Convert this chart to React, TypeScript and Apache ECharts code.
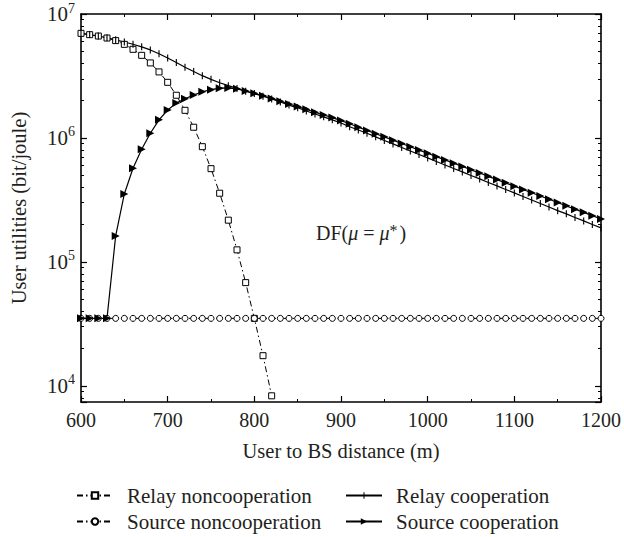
import React, { useEffect, useRef } from "react";
import * as echarts from "echarts";

const distance = [
  600, 610, 620, 630, 640, 650, 660, 670, 680, 690, 700, 710, 720, 730, 740, 750, 760, 770, 780, 790,
  800, 810, 820, 830, 840, 850, 860, 870, 880, 890, 900, 910, 920, 930, 940, 950, 960, 970, 980, 990,
  1000, 1010, 1020, 1030, 1040, 1050, 1060, 1070, 1080, 1090, 1100, 1110, 1120, 1130, 1140, 1150, 1160,
  1170, 1180, 1190, 1200,
];

const relayNoncoop = [
  6980000, 6810000, 6640000, 6400000, 6100000, 5690000, 5190000, 4640000, 4030000, 3410000, 2810000,
  2210000, 1670000, 1220000, 850000, 565000, 358000, 217000, 125000, 68000, 35000, 17500, 8300,
];

const relayCoop = [
  6980000, 6820000, 6640000, 6430000, 6190000, 5940000, 5700000, 5430000, 5130000, 4780000, 4420000,
  4060000, 3720000, 3440000, 3180000, 2970000, 2790000, 2640000, 2510000, 2380000, 2280000, 2170000,
  2060000, 1950000, 1840000, 1750000, 1650000, 1560000, 1480000, 1400000, 1320000, 1230000, 1160000,
  1090000, 1020000, 953000, 895000, 838000, 785000, 735000, 690000, 646000, 605000, 566000, 532000,
  498000, 467000, 437000, 410000, 384000, 360000, 337000, 316000, 296000, 277000, 259000, 244000,
  228000, 214000, 200000, 188000,
];

const sourceNoncoop = [
  35000, 35000, 35000, 35000, 35000, 35000, 35000, 35000, 35000, 35000, 35000, 35000, 35000, 35000,
  35000, 35000, 35000, 35000, 35000, 35000, 35000, 35000, 35000, 35000, 35000, 35000, 35000, 35000,
  35000, 35000, 35000, 35000, 35000, 35000, 35000, 35000, 35000, 35000, 35000, 35000, 35000, 35000,
  35000, 35000, 35000, 35000, 35000, 35000, 35000, 35000, 35000, 35000, 35000, 35000, 35000, 35000,
  35000, 35000, 35000, 35000, 35000,
];

const sourceCoop = [
  35000, 35000, 35000, 35000, 162000, 353000, 570000, 811000, 1090000, 1400000, 1680000, 1910000,
  2070000, 2220000, 2360000, 2450000, 2520000, 2530000, 2490000, 2390000, 2290000, 2190000, 2080000,
  1980000, 1880000, 1790000, 1700000, 1610000, 1530000, 1460000, 1380000, 1300000, 1220000, 1150000,
  1080000, 1020000, 959000, 902000, 849000, 798000, 752000, 706000, 665000, 625000, 589000, 553000,
  521000, 490000, 461000, 434000, 408000, 384000, 361000, 340000, 320000, 301000, 283000, 266000,
  251000, 236000, 222000,
];

const seriesNames = [
  "Relay noncooperation",
  "Source noncooperation",
  "Relay cooperation",
  "Source cooperation",
];

const FONT = "Liberation Serif";
const TEXT = "#231f20";
// vertical tick mark centred in a 10x10 box (the tiny corner strokes only fix the box)
const TICK_SYMBOL = "path://M0,0h0.01v0.01h-0.01z M10,10h-0.01v-0.01h0.01z M4.2,0h1.6v10h-1.6z";

export default function App() {
  const ref = useRef<HTMLDivElement>(null);

  useEffect(() => {
    document.body.style.margin = "0";
    const chart = echarts.init(ref.current!, null, { renderer: "svg" });
    const pairs = (ys: number[]) => ys.map((v, i) => [distance[i], v]);
    const logLabel = (v: number) => {
      const e = Math.log10(v);
      const r = Math.round(e);
      if (Math.abs(e - r) > 1e-6) return "";
      return `{b|10}{s|${r}}`;
    };
    const axisLine = { show: true, onZero: false, lineStyle: { color: "#000", width: 1.6 } };
    const axisTick = { show: true, inside: true, length: 6, lineStyle: { color: "#000", width: 1.2 } };
    const dashDot = [6, 3, 1.5, 3];
    const legendBase = {
      orient: "vertical",
      top: 480,
      height: 70,
      itemWidth: 36,
      itemHeight: 8,
      itemGap: 5,
      textStyle: {
        color: TEXT,
        fontFamily: FONT,
        fontSize: 21,
        lineHeight: 21,
        padding: [0, 0, 0, 9],
      },
    };

    chart.setOption({
      animation: false,
      grid: { left: 78, right: 21, top: 14, bottom: 135, containLabel: false },
      xAxis: [
        {
          type: "value",
          position: "bottom",
          min: 600,
          max: 1200,
          interval: 100,
          axisLine,
          axisTick,
          minorTick: { show: true, splitNumber: 2, length: 3, lineStyle: { color: "#000", width: 1 } },
          splitLine: { show: false },
          axisLabel: {
            color: TEXT,
            fontFamily: FONT,
            fontSize: 20,
            margin: 8,
            formatter: (v: number) => String(v),
          },
          name: "User to BS distance (m)",
          nameLocation: "middle",
          nameGap: 38,
          nameTextStyle: { color: TEXT, fontFamily: FONT, fontSize: 20.5 },
        },
        {
          type: "value",
          position: "top",
          min: 600,
          max: 1200,
          interval: 100,
          axisLine,
          axisTick,
          minorTick: { show: true, splitNumber: 2, length: 3, lineStyle: { color: "#000", width: 1 } },
          splitLine: { show: false },
          axisLabel: { show: false },
        },
      ],
      yAxis: [
        {
          type: "log",
          logBase: 10,
          position: "left",
          min: 7400,
          max: 10000000,
          axisLine,
          axisTick,
          minorTick: { show: true, splitNumber: 9, length: 3, lineStyle: { color: "#000", width: 1 } },
          splitLine: { show: false },
          axisLabel: {
            formatter: logLabel,
            margin: 6,
            rich: {
              b: { color: TEXT, fontFamily: FONT, fontSize: 21 },
              s: { color: TEXT, fontFamily: FONT, fontSize: 14, padding: [0, 0, 12, 0] },
            },
          },
          name: "User utilities (bit/joule)",
          nameLocation: "middle",
          nameGap: 52,
          nameTextStyle: { color: TEXT, fontFamily: FONT, fontSize: 20.5 },
        },
        {
          type: "log",
          logBase: 10,
          position: "right",
          min: 7400,
          max: 10000000,
          axisLine,
          axisTick,
          minorTick: { show: true, splitNumber: 9, length: 3, lineStyle: { color: "#000", width: 1 } },
          splitLine: { show: false },
          axisLabel: { show: false },
        },
      ],
      legend: [
        { ...legendBase, data: [seriesNames[0], seriesNames[1]], left: 71 },
        { ...legendBase, data: [seriesNames[2], seriesNames[3]], left: 340 },
      ],
      graphic: [
        {
          type: "text",
          left: 316,
          top: 222,
          style: {
            text: "DF({i|μ} = {i|μ}{s|*})",
            fill: TEXT,
            font: `20px "${FONT}"`,
            rich: {
              i: { fontFamily: FONT, fontSize: 20, fontStyle: "italic", fill: TEXT },
              s: { fontFamily: FONT, fontSize: 16, fill: TEXT, padding: [0, 2, 6, 0] },
            },
          },
        },
      ],
      series: [
        {
          name: seriesNames[0],
          type: "line",
          data: pairs(relayNoncoop),
          symbol: "rect",
          symbolSize: 6,
          showAllSymbol: true,
          itemStyle: { color: "#fff", borderColor: "#000", borderWidth: 1 },
          lineStyle: { color: "#000", width: 1, type: dashDot },
        },
        {
          name: seriesNames[2],
          type: "line",
          data: pairs(relayCoop),
          symbol: TICK_SYMBOL,
          symbolSize: 7,
          showAllSymbol: true,
          itemStyle: { color: "#000" },
          lineStyle: { color: "#000", width: 1.2 },
        },
        {
          name: seriesNames[1],
          type: "line",
          data: pairs(sourceNoncoop),
          symbol: "circle",
          symbolSize: 6,
          showAllSymbol: true,
          itemStyle: { color: "#fff", borderColor: "#000", borderWidth: 1 },
          lineStyle: { color: "#000", width: 1, type: dashDot },
        },
        {
          name: seriesNames[3],
          type: "line",
          data: pairs(sourceCoop),
          symbol: "triangle",
          symbolRotate: -90,
          symbolSize: 8,
          showAllSymbol: true,
          itemStyle: { color: "#000" },
          lineStyle: { color: "#000", width: 1.2 },
        },
      ],
    });
    return () => chart.dispose();
  }, []);

  return <div ref={ref} style={{ width: 624, height: 537 }} />;
}
